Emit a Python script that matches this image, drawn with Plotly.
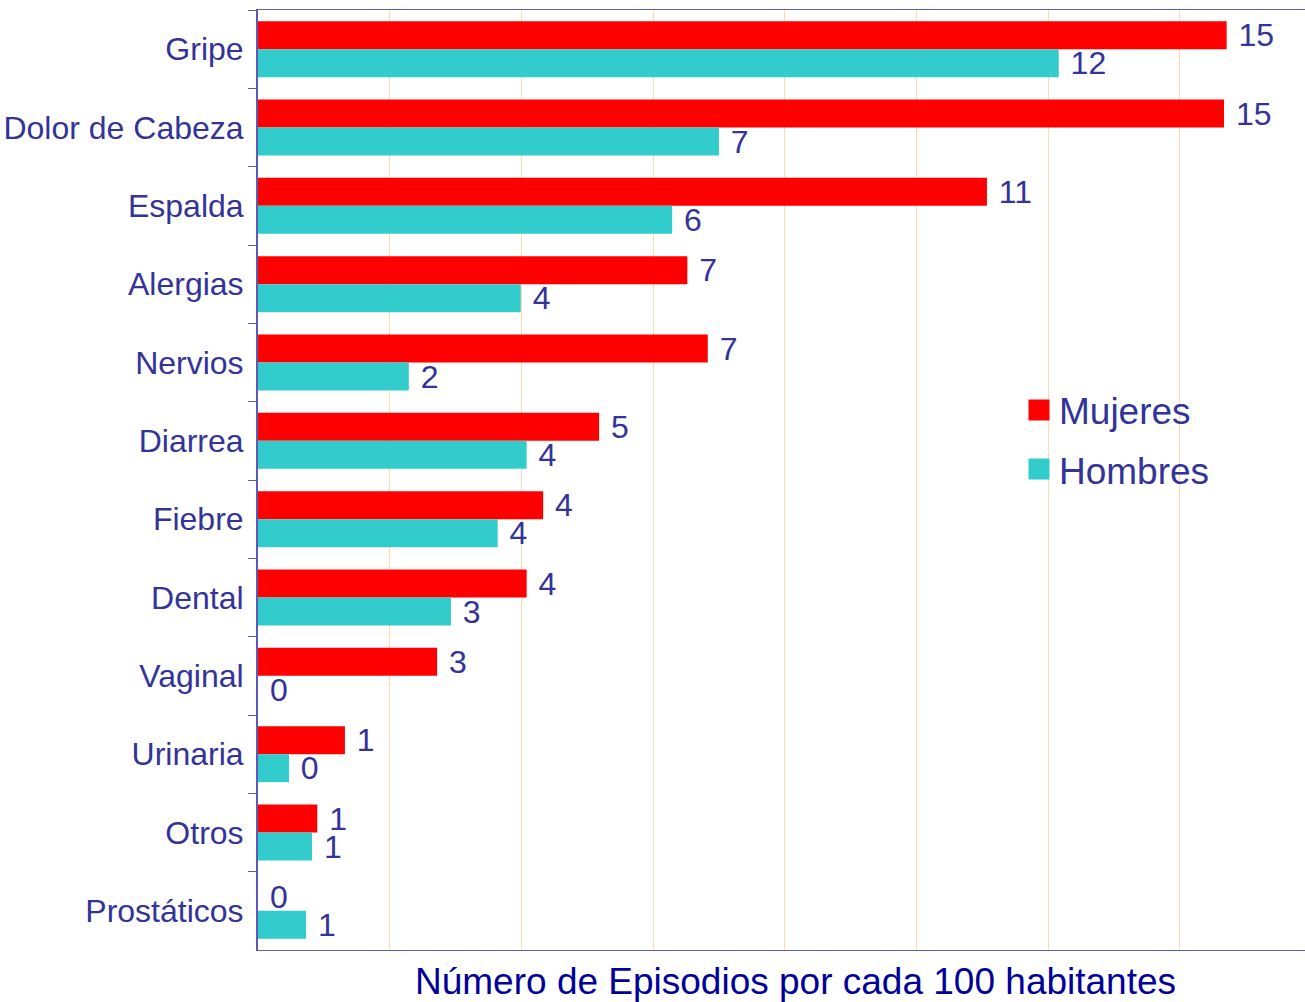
import plotly.graph_objects as go

# episodes per 100 inhabitants
categories = ["Gripe", "Dolor de Cabeza", "Espalda", "Alergias", "Nervios", "Diarrea",
              "Fiebre", "Dental", "Vaginal", "Urinaria", "Otros", "Prostáticos"]
mujeres = [14.71, 14.67, 11.07, 6.52, 6.83, 5.18, 4.33, 4.08, 2.72, 1.32, 0.90, 0.0]
hombres = [12.16, 7.0, 6.29, 3.99, 2.29, 4.08, 3.64, 2.93, 0.0, 0.47, 0.82, 0.73]

FONT = "Liberation Sans, Arial, sans-serif"
TXT = "#333399"
AXIS = "#5b5bb5"

fig = go.Figure()
series = [("Mujeres", mujeres, "#FF0000"), ("Hombres", hombres, "#33CCCC")]
for name, vals, col in series:
    fig.add_trace(go.Bar(
        x=vals, y=categories, name=name, orientation='h', showlegend=False,
        marker=dict(color=col, line=dict(width=0)),
        texttemplate=" %{x:.0f}", textposition='outside', constraintext='none',
        textfont=dict(family=FONT, size=32, color=TXT),
        cliponaxis=False,
    ))
# legend keys (bigger squares than the bar legend symbol)
for name, vals, col in series:
    fig.add_trace(go.Scatter(
        x=[None], y=[None], name=name, mode='markers', legendgroup=name,
        marker=dict(symbol='square', size=16, color=col, line=dict(color=col, width=5)),
    ))

fig.update_layout(
    width=1305, height=1002,
    margin=dict(l=258, r=0, t=10, b=52),
    paper_bgcolor='white', plot_bgcolor='white',
    barmode='group', bargap=0.285, bargroupgap=0,
    font=dict(family=FONT, color=TXT),
    legend=dict(
        x=(1019 - 258) / 1047, y=0.607, yanchor='top',
        font=dict(family=FONT, size=37, color=TXT),
        traceorder='grouped', tracegroupgap=8, bgcolor='rgba(0,0,0,0)',
    ),
    xaxis=dict(
        range=[0, 15.9], dtick=2, showgrid=True, gridcolor='#FDD9B0', gridwidth=1,
        showticklabels=False, ticks='', zeroline=False,
        showline=True, linecolor=AXIS, linewidth=1, mirror=True,
    ),
    yaxis=dict(
        autorange='reversed', showline=True, linecolor=AXIS, linewidth=2,
        ticks='outside', tickson='boundaries', ticklen=8, tickcolor=AXIS, tickwidth=1,
        ticklabelstandoff=6,
        tickfont=dict(family=FONT, size=32, color=TXT), showgrid=False,
    ),
    annotations=[dict(
        text="Número de Episodios por cada 100 habitantes",
        xref='paper', yref='paper', x=0.513, y=-0.034, xanchor='center', yanchor='middle',
        showarrow=False, font=dict(family=FONT, size=37, color="#000099"),
    )],
)

# page body has a default 8px margin; drop it so the figure sits at the window corner
fig.write_html("out.html", config={'displayModeBar': False},
               post_script="document.body.style.margin='0';document.body.style.overflow='hidden';")
